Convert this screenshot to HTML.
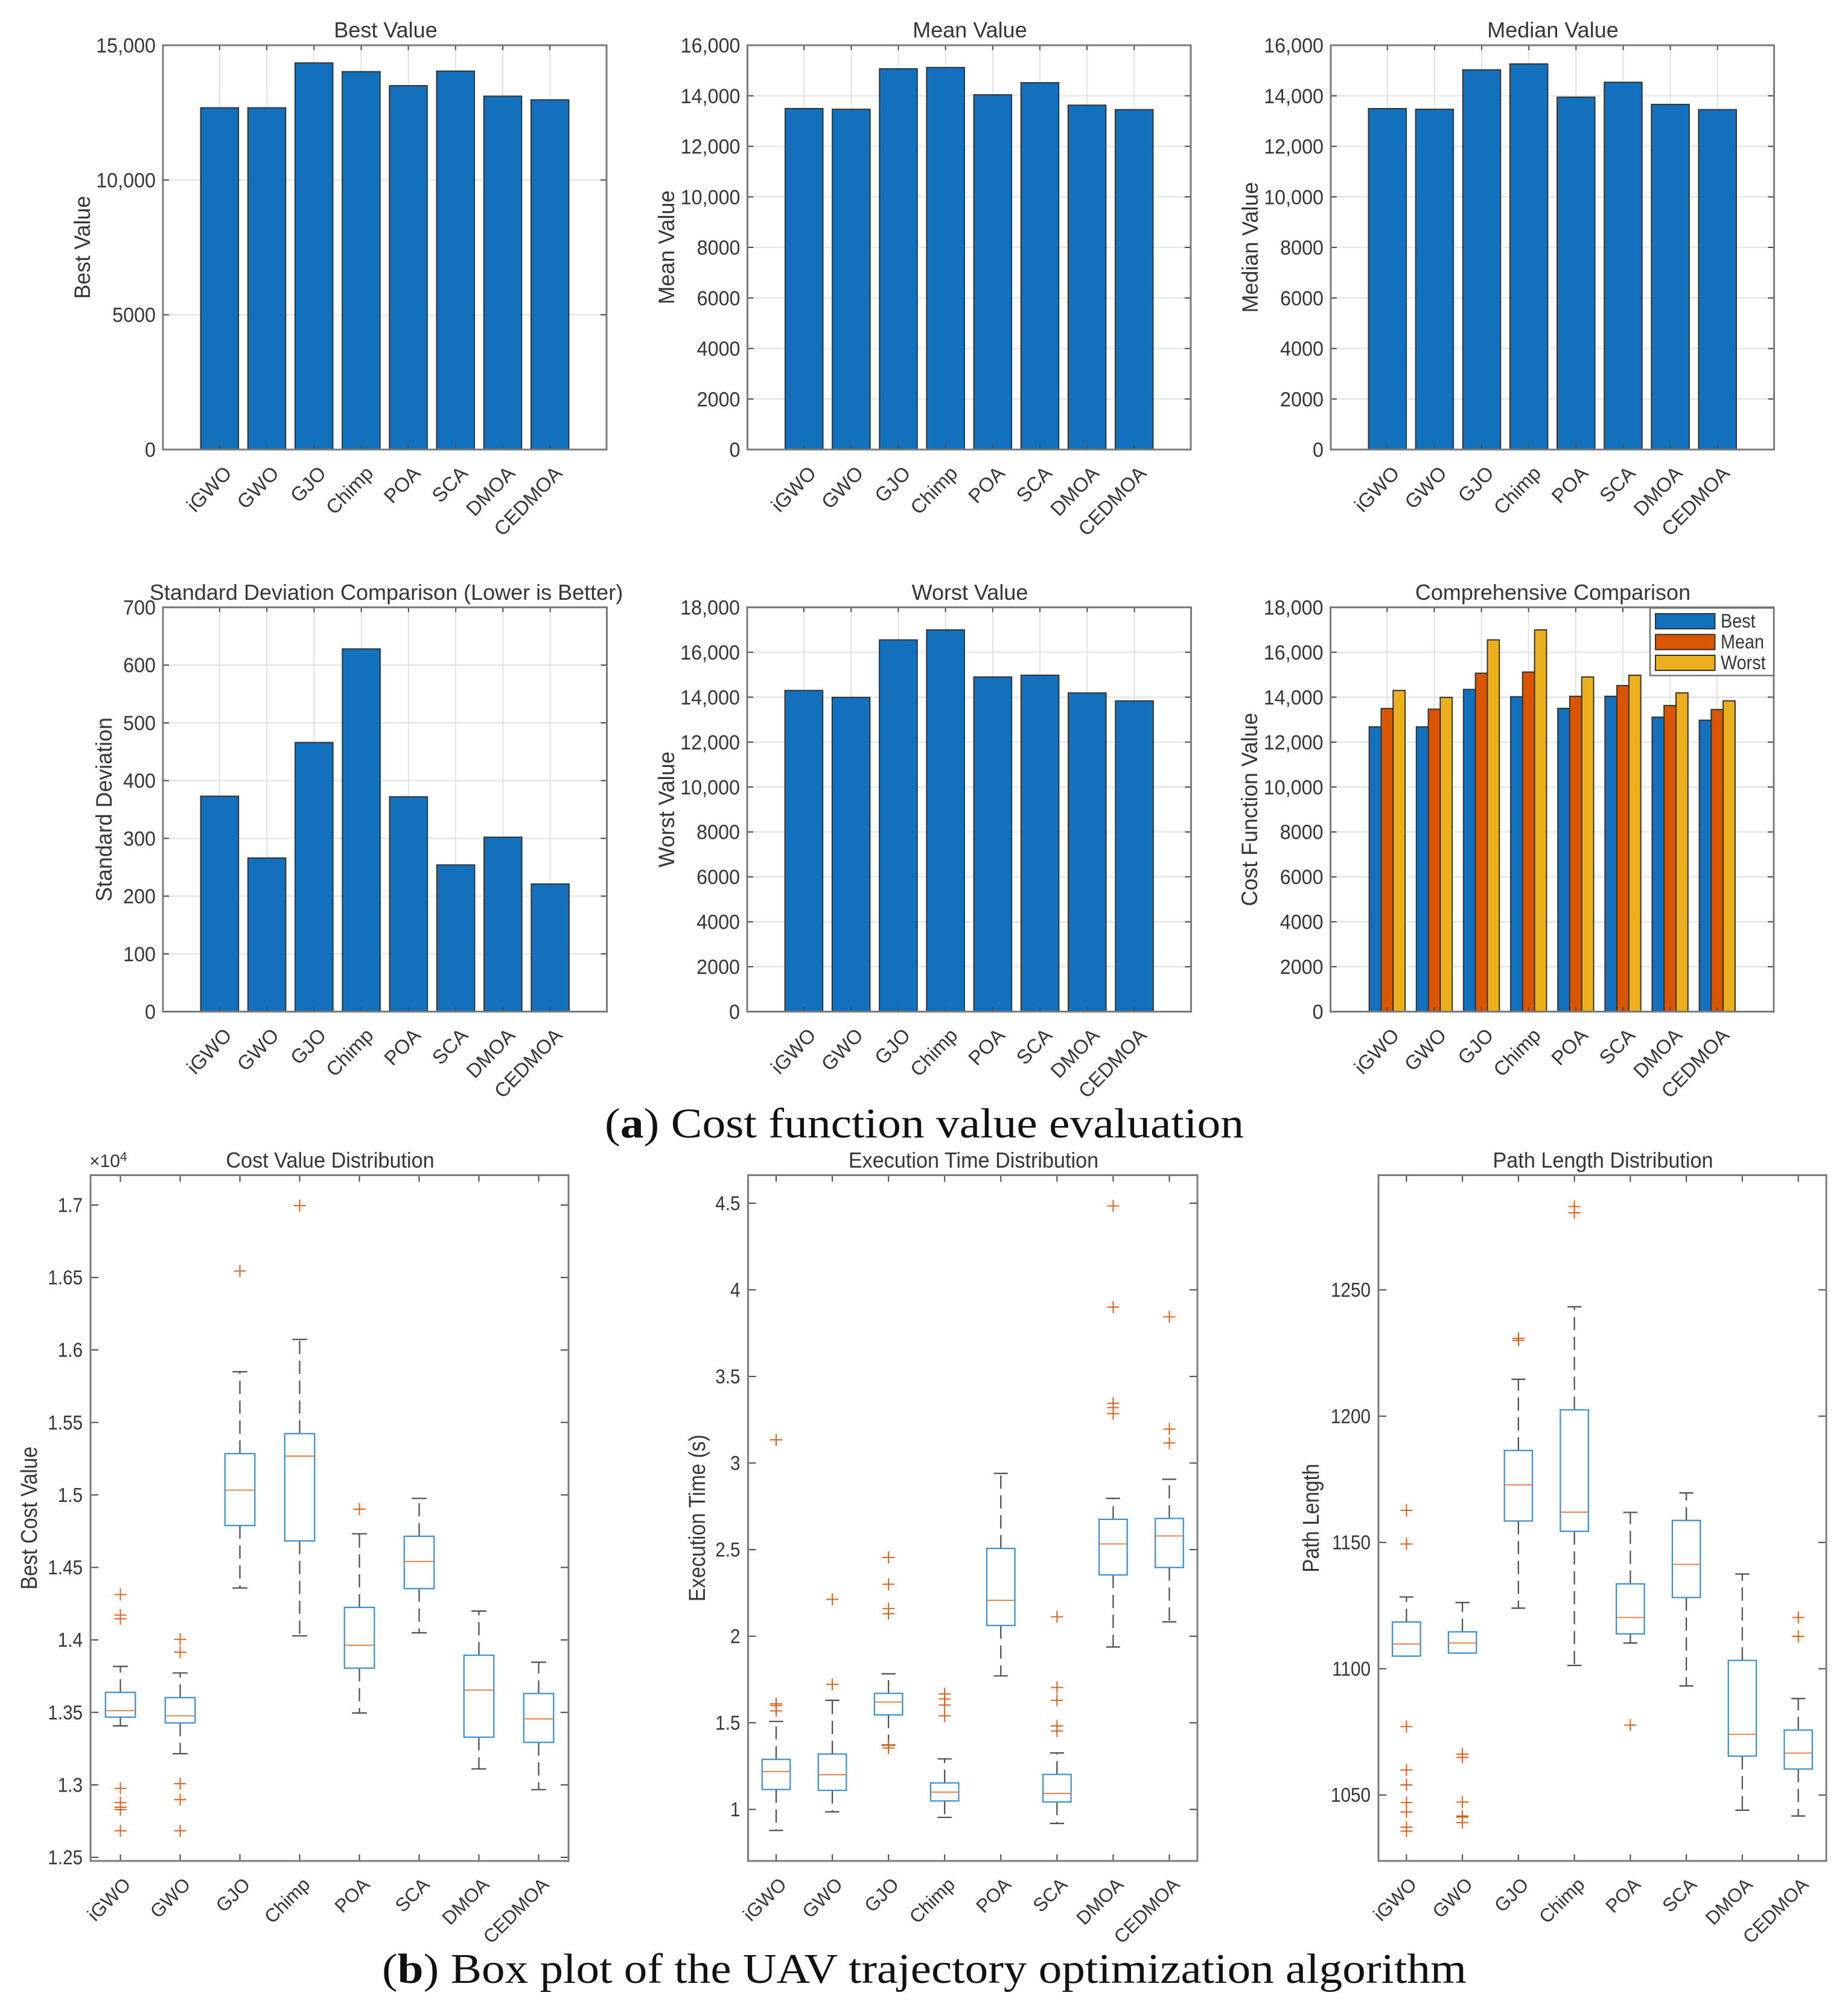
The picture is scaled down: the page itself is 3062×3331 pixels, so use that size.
<!DOCTYPE html>
<html lang="en">
<head>
<meta charset="utf-8">
<title>UAV trajectory optimization algorithm comparison</title>
<style>
html,body{margin:0;padding:0;background:#fff;}
svg{display:block;}
text{font-family:"Liberation Sans",Arial,sans-serif;fill:#363636;}
.caption{font-family:"Liberation Serif","Times New Roman",serif;fill:#111;font-size:70px;}
</style>
</head>
<body>
<svg id="figure" xmlns="http://www.w3.org/2000/svg" width="3062" height="3331" viewBox="0 0 3062 3331">
  <rect x="0" y="0" width="3062" height="3331" fill="#fff"></rect>
  <g id="charts"></g>
  <text class="caption" x="1002" y="1885" textLength="1059" lengthAdjust="spacingAndGlyphs">(<tspan font-weight="bold">a</tspan>) Cost function value evaluation</text>
  <text class="caption" x="633" y="3286" textLength="1797" lengthAdjust="spacingAndGlyphs">(<tspan font-weight="bold">b</tspan>) Box plot of the UAV trajectory optimization algorithm</text>
</svg>
<script>
/* ---------- categories and tick labels ---------- */
const categories = ['iGWO','GWO','GJO','Chimp','POA','SCA','DMOA','CEDMOA'];
const bestTicks = [0,5000,10000,15000];
const meanTicks = [0,2000,4000,6000,8000,10000,12000,14000,16000];
const medianTicks = [0,2000,4000,6000,8000,10000,12000,14000,16000];
const stdTicks = [0,100,200,300,400,500,600,700];
const worstTicks = [0,2000,4000,6000,8000,10000,12000,14000,16000,18000];
const compTicks = [0,2000,4000,6000,8000,10000,12000,14000,16000,18000];
const costTicks = [1.25,1.3,1.35,1.4,1.45,1.5,1.55,1.6,1.65,1.7];
const costTickLabels = ['1.25','1.3','1.35','1.4','1.45','1.5','1.55','1.6','1.65','1.7'];
const timeTicks = [1,1.5,2,2.5,3,3.5,4,4.5];
const timeTickLabels = ['1','1.5','2','2.5','3','3.5','4','4.5'];
const pathTicks = [1050,1100,1150,1200,1250];
const pathTickLabels = ['1050','1100','1150','1200','1250'];

/* ---------- bar chart values ---------- */
const bestValues = [12680,12680,14345,14021,13500,14040,13111,12975];
const meanValues = [13495,13466,15068,15120,14040,14518,13628,13452];
const medianValues = [13493,13466,15027,15260,13945,14534,13658,13452];
const stdValues = [373,266,466,628,372,254,302,221];
const worstValues = [14299,13990,16551,16998,14900,14977,14191,13836];

/* ---------- box plot values: cost (x 10^4) ---------- */
const costWhiskerHigh = [1.3817,1.3772,1.5850,1.6073,1.4732,1.4976,1.4199,1.3846];
const costQ3 = [1.3638,1.3602,1.5285,1.5423,1.4224,1.4715,1.3894,1.3630];
const costMedian = [1.3512,1.3476,1.5033,1.5268,1.3963,1.4541,1.3654,1.3455];
const costQ1 = [1.3467,1.3427,1.4789,1.4683,1.3805,1.4354,1.3329,1.3293];
const costWhiskerLow = [1.3407,1.3215,1.4358,1.4028,1.3496,1.4049,1.3110,1.2967];
const costOutliers = [
  [1.4313,1.4171,1.4146,1.2976,1.2878,1.2846,1.2829,1.2683],
  [1.4004,1.3915,1.3008,1.2898,1.2683],
  [1.6545],
  [1.6996],
  [1.4902],
  [],
  [],
  []
];

/* ---------- box plot values: execution time ---------- */
const timeWhiskerHigh = [1.508,1.63,1.783,1.292,2.94,1.326,2.796,2.906];
const timeQ3 = [1.289,1.32,1.67,1.153,2.507,1.202,2.675,2.68];
const timeMedian = [1.219,1.2,1.62,1.10,2.207,1.092,2.533,2.579];
const timeQ1 = [1.115,1.11,1.546,1.049,2.062,1.043,2.354,2.397];
const timeWhiskerLow = [0.879,0.986,1.372,0.954,1.771,0.919,1.938,2.083];
const timeOutliers = [
  [3.134,1.61,1.60,1.569],
  [2.213,1.722],
  [2.455,2.30,2.16,2.13,1.37,1.355],
  [1.667,1.638,1.603,1.54],
  [],
  [2.112,1.704,1.63,1.482,1.453],
  [4.484,3.90,3.345,3.32,3.285],
  [3.844,3.196,3.116]
];

/* ---------- box plot values: path length ---------- */
const pathWhiskerHigh = [1128.4,1126.2,1214.6,1243.3,1161.9,1169.6,1137.5,1088.2];
const pathQ3 = [1118.5,1114.6,1186.4,1202.5,1133.6,1158.7,1103.3,1075.7];
const pathMedian = [1109.8,1110.2,1172.8,1162,1120.3,1141.3,1074,1066.6];
const pathQ1 = [1105,1106.2,1158.5,1154.4,1113.8,1128.2,1065.4,1060.3];
const pathWhiskerLow = [1105,1106.2,1124,1101.3,1110.2,1093.2,1044,1041.7];
const pathOutliers = [
  [1162.7,1149.4,1077.1,1059.9,1054,1047,1043.3,1037.3,1035.7],
  [1066.2,1064.9,1047.2,1041.7,1041.3,1039.1],
  [1230.8,1230],
  [1283,1280.5],
  [1077.7],
  [],
  [],
  [1120.3,1112.8]
];

/* ---------- drawing helpers ---------- */
const NS = 'http://www.w3.org/2000/svg';
const root = document.getElementById('charts');
const BLUE = '#1270bd', ORANGE = '#da5500', YELLOW = '#ecb01f';

function add(parent, tag, attrs) {
  const el = document.createElementNS(NS, tag);
  for (const k in attrs) el.setAttribute(k, attrs[k]);
  parent.appendChild(el);
  return el;
}
function addText(parent, str, x, y, size, o) {
  const el = add(parent, 'text', {
    'font-size': size,
    'text-anchor': o.anchor || 'middle',
    transform: 'translate(' + x + ',' + y + ') rotate(' + (o.rot || 0) + ') scale(' + (o.sx || 1) + ',1)'
  });
  el.textContent = str;
  return el;
}
function fmtThousands(v) {
  return v >= 10000 ? String(v).replace(/(\d)(\d{3})$/, '$1,$2') : String(v);
}
function makeAxes(c) {
  const g = add(root, 'g', {});
  
  
  const x = v => c.left + (v - c.xLo) / (c.xHi - c.xLo) * (c.right - c.left);
  const y = v => c.bottom - (v - c.yLo) / (c.yHi - c.yLo) * (c.bottom - c.top);
  return { g, x, y, c };
}
function drawGrid(ax) {
  const c = ax.c;
  c.yTicks.forEach(t => {
    if (t === c.yLo || t === c.yHi) return;
    const l = add(ax.g, 'line', { x1: c.left, x2: c.right, y1: ax.y(t), y2: ax.y(t), stroke: '#e7e7e7', 'stroke-width': 2.6 });
    
    
  });
  categories.forEach((cat, i) => {
    const l = add(ax.g, 'line', { x1: ax.x(i + 1), x2: ax.x(i + 1), y1: c.top, y2: c.bottom, stroke: '#dcdcdc', 'stroke-width': 1.6 });
    
    
  });
}
function drawFrame(ax) {
  const c = ax.c;
  const xLen = c.xTickLen, yLen = c.yTickLen;
  categories.forEach((cat, i) => {
    const px = ax.x(i + 1);
    [[c.bottom, c.bottom - xLen], [c.top, c.top + xLen]].forEach(p => {
      const t = add(ax.g, 'line', { x1: px, x2: px, y1: p[0], y2: p[1], stroke: '#4a4a4a', 'stroke-width': 2 });
      
      
    });
    const lab = addText(ax.g, cat, px + c.xLabDx, c.bottom + c.xLabDy, c.xLabSize, { anchor: 'end', rot: c.xLabRot });
    
    
  });
  c.yTicks.forEach((t, i) => {
    const py = ax.y(t);
    [[c.left, c.left + yLen], [c.right, c.right - yLen]].forEach(p => {
      const m = add(ax.g, 'line', { x1: p[0], x2: p[1], y1: py, y2: py, stroke: '#4a4a4a', 'stroke-width': 2 });
      
      
    });
    const lab = addText(ax.g, c.yLabels[i], c.left - c.yLabGap, py + c.yLabShift, c.yLabSize, { anchor: 'end', sx: c.yLabSx });
    
    
  });
  const frame = add(ax.g, 'rect', { x: c.left, y: c.top, width: c.right - c.left, height: c.bottom - c.top, fill: 'none', stroke: '#7b7b7b', 'stroke-width': 3 });
  
  
  const title = addText(ax.g, c.title, c.titleX, c.titleY, c.titleSize, { sx: c.titleSx });
  
  
  const yl = addText(ax.g, c.yTitle, c.yTitleX, (c.top + c.bottom) / 2, c.yTitleSize, { rot: -90, sx: c.yTitleSx });
  
  
}
function barDefaults(c) {
  return Object.assign({
    xLo: -0.2, xHi: 9.2, yLo: 0, xTickLen: 8, yTickLen: 10,
    xLabDx: 22, xLabDy: 41, xLabSize: 33, xLabRot: -46,
    yLabGap: 12, yLabShift: 12, yLabSize: 34, yLabSx: 0.95,
    titleSize: 36, titleSx: 1, yTitleSize: 37, yTitleSx: 0.97,
    yLabels: c.yTicks.map(fmtThousands)
  }, c);
}
function drawBars(cfg, values) {
  const ax = makeAxes(barDefaults(cfg));
  drawGrid(ax);
  const w = ax.x(1.4) - ax.x(1);
  values.forEach((v, i) => {
    const b = add(ax.g, 'rect', { x: ax.x(i + 1) - w, y: ax.y(v), width: 2 * w, height: ax.y(0) - ax.y(v), fill: BLUE, stroke: '#333', 'stroke-width': 2 });
    
    
  });
  drawFrame(ax);
  return ax;
}
function drawGrouped(cfg, series) {
  const ax = makeAxes(barDefaults(cfg));
  drawGrid(ax);
  const bw = ax.x(1.2533) - ax.x(1);
  series.forEach((s, k) => {
    s.values.forEach((v, i) => {
      const left = ax.x(i + 1) + (k - 1.5) * bw;
      const b = add(ax.g, 'rect', { x: left, y: ax.y(v), width: bw, height: ax.y(0) - ax.y(v), fill: s.color, stroke: '#333', 'stroke-width': 2 });
      
      
    });
  });
  drawFrame(ax);
  const lg = add(ax.g, 'g', {});
  
  
  const box = add(lg, 'rect', { x: 2734, y: 1007.5, width: 205, height: 112, fill: '#fff', stroke: '#6e6e6e', 'stroke-width': 2.4 });
  
  
  series.forEach((s, k) => {
    const top = 1017 + k * 34.5;
    const sw = add(lg, 'rect', { x: 2743, y: top, width: 98.5, height: 25, fill: s.color, stroke: '#333', 'stroke-width': 2 });
    
    
    const tx = addText(lg, s.label, 2851, top + 23, 32, { anchor: 'start', sx: 0.9 });
    
    
  });
  return ax;
}
function boxDefaults(c) {
  return Object.assign({
    xLo: 0.5, xHi: 8.5, top: 1947.5, bottom: 3084, xTickLen: 11, yTickLen: 13,
    xLabDx: 19, xLabDy: 41, xLabSize: 31.5, xLabRot: -45,
    yLabGap: 13, yLabShift: 11.5, yLabSize: 33, yLabSx: 0.9,
    titleY: 1935, titleSize: 36, titleSx: 0.95, yTitleSize: 38, yTitleSx: 0.88
  }, c);
}
function drawBoxes(cfg, hi, q3, med, q1, lo, outliers) {
  const ax = makeAxes(boxDefaults(cfg));
  const half = ax.x(1.25) - ax.x(1);
  const capHalf = half / 2;
  categories.forEach((cat, i) => {
    const px = ax.x(i + 1);
    const grp = add(ax.g, 'g', {});
    
    
    const wh = add(grp, 'path', {
      d: 'M' + px + ' ' + ax.y(q3[i]) + 'V' + ax.y(hi[i]) + 'M' + px + ' ' + ax.y(q1[i]) + 'V' + ax.y(lo[i]),
      fill: 'none', stroke: '#4d4d4d', 'stroke-width': 2.2, 'stroke-dasharray': '22 11'
    });
    
    
    [hi[i], lo[i]].forEach(v => {
      const cap = add(grp, 'line', { x1: px - capHalf, x2: px + capHalf, y1: ax.y(v), y2: ax.y(v), stroke: '#4d4d4d', 'stroke-width': 2.2 });
      
      
    });
    const r = add(grp, 'rect', { x: px - half, y: ax.y(q3[i]), width: 2 * half, height: ax.y(q1[i]) - ax.y(q3[i]), fill: '#fff', stroke: '#3a8fd2', 'stroke-width': 2.2 });
    
    
    const m = add(grp, 'line', { x1: px - half, x2: px + half, y1: ax.y(med[i]), y2: ax.y(med[i]), stroke: '#e4763c', 'stroke-width': 1.8 });
    
    
    outliers[i].forEach(v => {
      const py = ax.y(v);
      const o = add(grp, 'path', { d: 'M' + (px - 10) + ' ' + py + 'H' + (px + 10) + 'M' + px + ' ' + (py - 10) + 'V' + (py + 10), fill: 'none', stroke: '#dd5a12', 'stroke-width': 1.9 });
      
      
    });
  });
  drawFrame(ax);
  return ax;
}

/* ---------- bar charts ---------- */
drawBars({ name: 'best-value', left: 270, right: 1005, top: 75, bottom: 745, yHi: 15000, yTicks: bestTicks, title: 'Best Value', titleX: 639, titleY: 62, yTitle: 'Best Value', yTitleX: 149 }, bestValues);
drawBars({ name: 'mean-value', left: 1238.5, right: 1973, top: 75, bottom: 745, yHi: 16000, yTicks: meanTicks, title: 'Mean Value', titleX: 1607, titleY: 62, yTitle: 'Mean Value', yTitleX: 1117 }, meanValues);
drawBars({ name: 'median-value', left: 2205, right: 2939.5, top: 75, bottom: 745, yHi: 16000, yTicks: medianTicks, title: 'Median Value', titleX: 2573, titleY: 62, yTitle: 'Median Value', yTitleX: 2084 }, medianValues);
drawBars({ name: 'standard-deviation', left: 270, right: 1005.5, top: 1006.5, bottom: 1676.5, yHi: 700, yTicks: stdTicks, title: 'Standard Deviation Comparison (Lower is Better)', titleX: 640, titleY: 994, yTitle: 'Standard Deviation', yTitleX: 185 }, stdValues);
drawBars({ name: 'worst-value', left: 1238, right: 1973.5, top: 1006.5, bottom: 1676.5, yHi: 18000, yTicks: worstTicks, title: 'Worst Value', titleX: 1607, titleY: 994, yTitle: 'Worst Value', yTitleX: 1117 }, worstValues);
drawGrouped({ name: 'comprehensive-comparison', left: 2204.6, right: 2939, top: 1006.5, bottom: 1676.5, yHi: 18000, yTicks: compTicks, title: 'Comprehensive Comparison', titleX: 2573, titleY: 994, yTitle: 'Cost Function Value', yTitleX: 2083 },
  [{ label: 'Best', color: BLUE, values: bestValues }, { label: 'Mean', color: ORANGE, values: meanValues }, { label: 'Worst', color: YELLOW, values: worstValues }]);

/* ---------- box plots ---------- */
const costAxes = drawBoxes({ name: 'cost-distribution', left: 150, right: 942, yLo: 1.2475, yHi: 1.7206, yTicks: costTicks, yLabels: costTickLabels, title: 'Cost Value Distribution', titleX: 547, yTitle: 'Best Cost Value', yTitleX: 61 },
  costWhiskerHigh, costQ3, costMedian, costQ1, costWhiskerLow, costOutliers);
const expo = add(costAxes.g, 'text', { x: 148, y: 1934, 'font-size': 30 });


expo.textContent = '\u00d710';
const expoSup = add(expo, 'tspan', { dy: -10, 'font-size': 21 });
expoSup.textContent = '4';

drawBoxes({ name: 'execution-time-distribution', left: 1239.5, right: 1984, yLo: 0.7025, yHi: 4.662, yTicks: timeTicks, yLabels: timeTickLabels, title: 'Execution Time Distribution', titleX: 1613, yTitle: 'Execution Time (s)', yTitleX: 1168 },
  timeWhiskerHigh, timeQ3, timeMedian, timeQ1, timeWhiskerLow, timeOutliers);
drawBoxes({ name: 'path-length-distribution', left: 2284, right: 3026, yLo: 1023.9, yHi: 1295.4, yTicks: pathTicks, yLabels: pathTickLabels, title: 'Path Length Distribution', titleX: 2656, yTitle: 'Path Length', yTitleX: 2185 },
  pathWhiskerHigh, pathQ3, pathMedian, pathQ1, pathWhiskerLow, pathOutliers);
</script>
</body>
</html>
